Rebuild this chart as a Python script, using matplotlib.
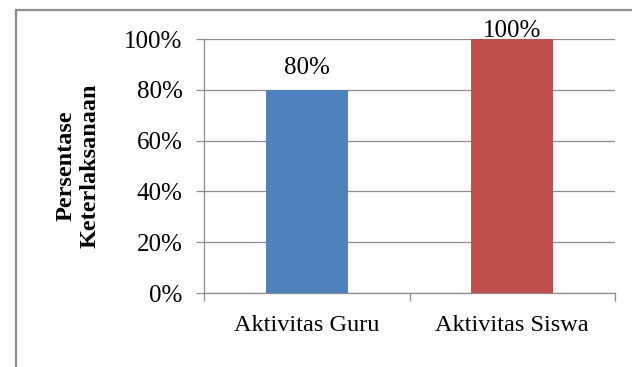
import matplotlib
matplotlib.use('Agg')
import matplotlib.pyplot as plt
from matplotlib.patches import Rectangle
from matplotlib.ticker import PercentFormatter

categories = ['Aktivitas Guru', 'Aktivitas Siswa']
values = [0.80, 1.00]
bar_colors = ['#4F81BD', '#C0504D']
y_ticks = [0.0, 0.2, 0.4, 0.6, 0.8, 1.0]

GRAY = '#8c8c8c'
plt.rcParams['font.family'] = ['Liberation Serif', 'DejaVu Serif']


def main():
    fig = plt.figure(figsize=(6.32, 3.67), dpi=100)
    ax = fig.add_axes([204 / 632, 1 - 293 / 367, 411 / 632, 254 / 367])

    x = list(range(len(categories)))
    ax.bar(x, values, width=0.4, color=bar_colors, zorder=3)
    ax.set_xlim(-0.5, len(categories) - 0.5)
    ax.set_ylim(0, 1)

    # value labels above bars (Excel keeps the top one inside the chart)
    for xi, v in zip(x, values):
        off = 11.5 if v < 1 else 1.5
        ax.annotate(f'{v:.0%}', (xi, v), xytext=(0, off), textcoords='offset points',
                    ha='center', va='baseline', fontsize=18, annotation_clip=False)

    ax.set_yticks(y_ticks)
    ax.yaxis.set_major_formatter(PercentFormatter(1.0, decimals=0))
    ax.yaxis.grid(True, color=GRAY, linewidth=0.9, zorder=0)
    ax.tick_params(axis='y', length=5.5, width=0.9, color=GRAY, pad=10, labelsize=18)

    ax.set_xticks(x)
    ax.set_xticklabels(categories)
    ax.set_xticks([-0.5, 0.5, len(categories) - 0.5], minor=True)
    ax.tick_params(axis='x', which='major', length=0, pad=16, labelsize=17.5)
    ax.tick_params(axis='x', which='minor', length=5.5, width=0.9, color=GRAY)

    for side in ('top', 'right'):
        ax.spines[side].set_visible(False)
    for side in ('left', 'bottom'):
        ax.spines[side].set_color(GRAY)
        ax.spines[side].set_linewidth(0.9)

    fig.text(78 / 632, 1 - 166 / 367, 'Persentase\nKeterlaksanaan', rotation=90,
             ha='center', va='center', fontsize=17.5, fontweight='bold', linespacing=1.2)

    # outer chart border, runs off the right and bottom edges
    frame = Rectangle((16 / 632, -0.1), 1.2, 1 - 10 / 367 + 0.1, transform=fig.transFigure,
                      fill=False, edgecolor=GRAY, linewidth=1.6, clip_on=False)
    fig.add_artist(frame)

    fig.savefig('out.png', dpi=100)
    plt.close(fig)


if __name__ == '__main__':
    main()
